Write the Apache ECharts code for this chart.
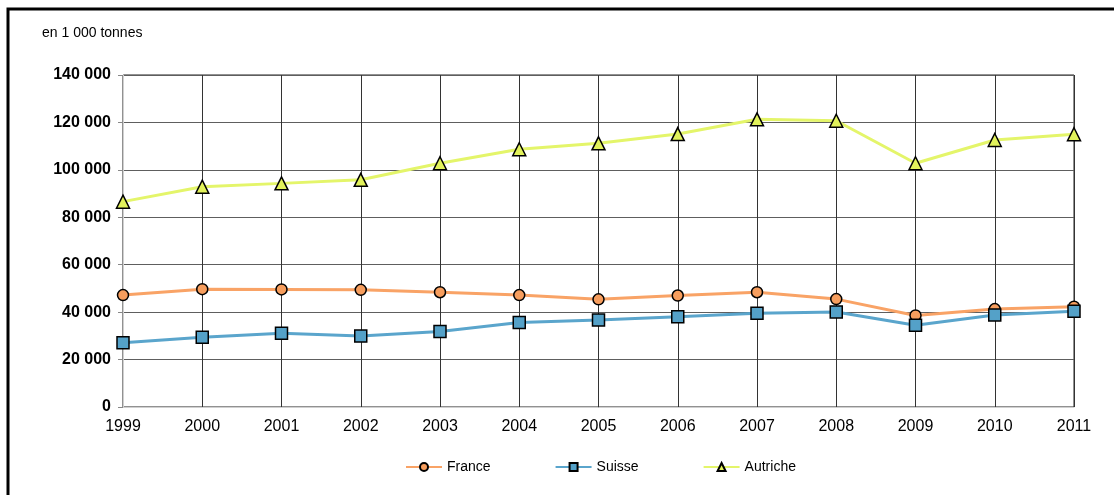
<!DOCTYPE html>
<html>
<head>
<meta charset="utf-8">
<script src="https://cdn.jsdelivr.net/npm/echarts@6/dist/echarts.min.js"></script>
<style>
  html, body { margin: 0; padding: 0; background: #fff; }
  #charts { width: 1114px; height: 495px; }
</style>
</head>
<body>
<div id="charts"></div>
<script>
var years = ["1999","2000","2001","2002","2003","2004","2005","2006","2007","2008","2009","2010","2011"];
var france = [47200, 49700, 49600, 49400, 48400, 47200, 45400, 47000, 48400, 45500, 38600, 41300, 42300];
var suisse = [27100, 29400, 31100, 29900, 31800, 35600, 36700, 38100, 39500, 40100, 34500, 38800, 40400];
var autriche = [86600, 92900, 94300, 95800, 102800, 108700, 111200, 115100, 121300, 120700, 102800, 112600, 115000];
var yTicks = [0, 20000, 40000, 60000, 80000, 100000, 120000, 140000];

function fmt(v) {
    return String(v).replace(/\B(?=(\d{3})+(?!\d))/g, ' ');
}

function serie(name, data, color, fill, symbol, size) {
    return {
        name: name,
        type: 'line',
        data: data,
        symbol: symbol,
        symbolSize: size,
        lineStyle: { color: color, width: 3 },
        itemStyle: { color: fill, borderColor: '#000', borderWidth: 1.5 },
        emphasis: { disabled: true },
        animation: false
    };
}

var option = {
    textStyle: { fontFamily: 'Liberation Sans, Arial, sans-serif' },
    graphic: [
        {   // cadre noir
            type: 'rect',
            shape: { x: 8, y: 9, width: 1200, height: 600 },
            style: { fill: 'none', stroke: '#000', lineWidth: 3 },
            silent: true
        },
        {
            type: 'text',
            left: 42, top: 26,
            style: { text: 'en 1 000 tonnes', fill: '#000', font: '14px Liberation Sans, Arial, sans-serif' }
        }
    ],
    grid: {
        left: 123, right: 40, top: 75, bottom: 88,
        show: true, borderColor: '#222', borderWidth: 1
    },
    legend: {
        bottom: 16,
        left: 400,
        itemGap: 64,
        itemWidth: 36,
        itemHeight: 10,
        textStyle: { fontSize: 14, color: '#000' },
        data: ['France', 'Suisse', 'Autriche']
    },
    xAxis: {
        type: 'category',
        data: years,
        boundaryGap: false,
        axisLine: { lineStyle: { color: '#d0d0d0' } },
        axisTick: { show: false },
        axisLabel: { fontSize: 16, color: '#000', margin: 12 },
        splitLine: { show: true, lineStyle: { color: '#333', width: 1 } }
    },
    yAxis: {
        type: 'value',
        min: yTicks[0],
        max: yTicks[yTicks.length - 1],
        interval: 20000,
        axisLine: { show: true, lineStyle: { color: '#d0d0d0' } },
        axisTick: { show: true, length: 5, lineStyle: { color: '#888' } },
        axisLabel: { fontSize: 16, fontWeight: 'bold', color: '#000', margin: 12, formatter: fmt },
        splitLine: { lineStyle: { color: '#5e5e5e', width: 1.2 } }
    },
    series: [
        serie('France', france, '#f9a366', '#f79e5e', 'circle', 11),
        serie('Suisse', suisse, '#5aa5cc', '#54a1c8', 'rect', 12),
        serie('Autriche', autriche, '#e4f56a', '#e2f25b', 'triangle', 13)
    ]
};

var myChart = echarts.init(document.getElementById('charts'));
myChart.setOption(option);
</script>
</body>
</html>
